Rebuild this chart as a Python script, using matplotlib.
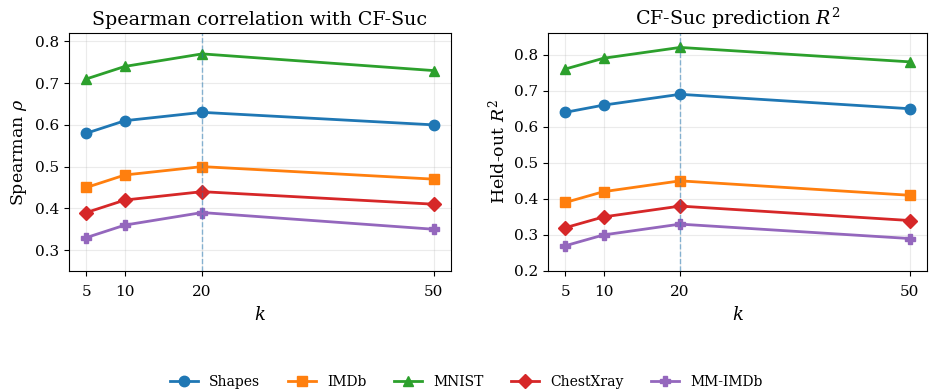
import matplotlib
matplotlib.use("Agg")
import matplotlib.pyplot as plt

plt.rcParams['font.family'] = 'DejaVu Serif'
plt.rcParams['mathtext.fontset'] = 'dejavuserif'

k_values = [5, 10, 20, 50]
datasets = ["Shapes", "IMDb", "MNIST", "ChestXray", "MM-IMDb"]
spearman = {
    "Shapes": [0.58, 0.61, 0.63, 0.60],
    "IMDb": [0.45, 0.48, 0.50, 0.47],
    "MNIST": [0.71, 0.74, 0.77, 0.73],
    "ChestXray": [0.39, 0.42, 0.44, 0.41],
    "MM-IMDb": [0.33, 0.36, 0.39, 0.35],
}
r2 = {
    "Shapes": [0.64, 0.66, 0.69, 0.65],
    "IMDb": [0.39, 0.42, 0.45, 0.41],
    "MNIST": [0.76, 0.79, 0.82, 0.78],
    "ChestXray": [0.32, 0.35, 0.38, 0.34],
    "MM-IMDb": [0.27, 0.30, 0.33, 0.29],
}
markers = ["o", "s", "^", "D", "P"]
colors = ["#1f77b4", "#ff7f0e", "#2ca02c", "#d62728", "#9467bd"]

fig = plt.figure(figsize=(9.33, 3.9), dpi=100)
ax1 = fig.add_axes([69/933, 1-271/390, 382/933, 238/390])
ax2 = fig.add_axes([548/933, 1-271/390, 379/933, 238/390])

for ax, data, title, ylabel, ylim in [
    (ax1, spearman, "Spearman correlation with CF-Suc", r"Spearman $\rho$", (0.25, 0.82)),
    (ax2, r2, r"CF-Suc prediction $R^2$", r"Held-out $R^2$", (0.2, 0.86)),
]:
    for name, m, c in zip(datasets, markers, colors):
        ax.plot(k_values, data[name], marker=m, color=c, lw=2, ms=7.5, label=name)
    ax.axvline(20, color="#1f77b4", ls="--", lw=1, alpha=0.5)
    ax.set_xticks(k_values)
    ax.set_ylim(*ylim)
    ax.grid(True, alpha=0.25)
    ax.set_title(title, fontsize=13.7)
    ax.set_xlabel(r"$k$", fontsize=13, labelpad=5)
    ax.set_ylabel(ylabel, fontsize=12.5)
    ax.tick_params(labelsize=11)
    ax.tick_params(axis="x", pad=6.5)

handles, labels = ax1.get_legend_handles_labels()
fig.legend(handles, labels, loc="lower center", ncol=5, frameon=False,
           fontsize=10, bbox_to_anchor=(0.5, -0.03))

fig.savefig("out.png", dpi=100)
